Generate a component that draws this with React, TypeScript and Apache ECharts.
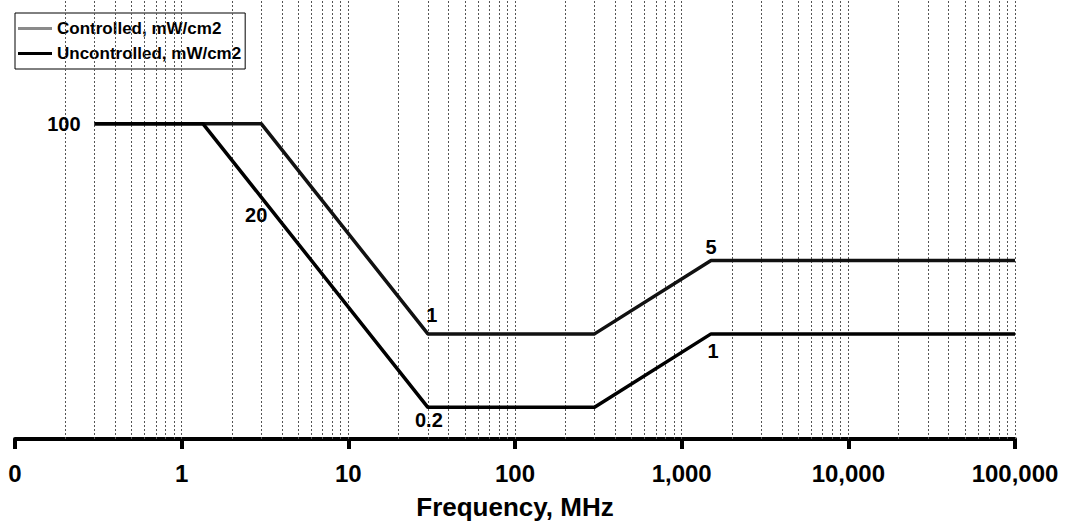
import React, { useEffect, useRef } from "react";
import * as echarts from "echarts";

// ---- data ----
const controlledFreq = [0.3, 3, 30, 300, 1500, 100000];
const controlledDensity = [100, 100, 1, 1, 5, 5];
const controlledLabels = ["100", "", "1", "", "5", ""];

const uncontrolledFreq = [0.3, 1.34, 3, 30, 300, 1500, 100000];
const uncontrolledDensity = [100, 100, 20, 0.2, 0.2, 1, 1];
const uncontrolledLabels = ["", "", "20", "0.2", "", "1", ""];

const xTickLabels = ["0", "1", "10", "100", "1,000", "10,000", "100,000"];
const decadeStarts = [0.1, 1, 10, 100, 1000, 10000];
const gridMultipliers = [2, 3, 4, 5, 6, 7, 8, 9, 10];

const seriesNames = ["Controlled, mW/cm2", "Uncontrolled, mW/cm2"];
const xAxisTitle = "Frequency, MHz";

const FONT = "'Liberation Sans', Arial, sans-serif";

export default function App() {
  const ref = useRef<HTMLDivElement>(null);

  useEffect(() => {
    if (!ref.current) return;
    const chart = echarts.init(ref.current, undefined, { renderer: "svg" });

    const labelStyle: Record<string, any> = {
      "100": { position: "left", distance: 14 },
      "1c": { position: "top", distance: 9, offset: [4, 0] },
      "5": { position: "top", distance: 3 },
      "20": { position: "bottom", distance: 8, offset: [-5, 0] },
      "0.2": { position: "bottom", distance: 3, offset: [1, 0] },
      "1u": { position: "bottom", distance: 7, offset: [2, 0] },
    };

    const mk = (freq: number[], dens: number[], labels: string[], suffix: string) =>
      freq.map((f, i) => {
        const txt = labels[i];
        const item: any = { value: [f, dens[i]] };
        if (txt) {
          const key = labelStyle[txt + suffix] ? txt + suffix : txt;
          item.label = {
            show: true,
            formatter: txt,
            fontFamily: FONT,
            fontWeight: "bold",
            fontSize: 20,
            color: "#000",
            ...labelStyle[key],
          };
        }
        return item;
      });

    const gridLines: any[] = [];
    decadeStarts.forEach((d) =>
      gridMultipliers.forEach((m) => gridLines.push({ xAxis: d * m }))
    );

    chart.setOption({
      animation: false,
      backgroundColor: "#fff",
      grid: { left: 15, right: 50, top: 0, bottom: 85, containLabel: false },
      legend: {
        data: [
          { name: seriesNames[0], itemStyle: { color: "#8a8a8a" } },
          { name: seriesNames[1], itemStyle: { color: "#000" } },
        ],
        orient: "vertical",
        left: 15,
        top: 13,
        backgroundColor: "#fff",
        borderColor: "#000",
        borderWidth: 1,
        borderRadius: 0,
        padding: [7, 4, 7, 3],
        itemGap: 8,
        itemWidth: 34,
        itemHeight: 3,
        icon: "rect",
        textStyle: { fontFamily: FONT, fontWeight: "bold", fontSize: 17, color: "#000" },
      },
      xAxis: {
        type: "log",
        logBase: 10,
        min: 0.1,
        max: 100000,
        name: xAxisTitle,
        nameLocation: "middle",
        nameGap: 55,
        nameTextStyle: { fontFamily: FONT, fontWeight: "bold", fontSize: 26, color: "#000" },
        axisLine: { show: true, lineStyle: { color: "#000", width: 4 } },
        axisTick: { show: true, length: 10, lineStyle: { color: "#000", width: 4 } },
        axisLabel: {
          margin: 22,
          fontFamily: FONT,
          fontWeight: "bold",
          fontSize: 24,
          color: "#000",
          formatter: (v: number) => xTickLabels[Math.round(Math.log10(v)) + 1] ?? "",
        },
        splitLine: { show: false },
        minorTick: { show: false },
      },
      yAxis: { type: "log", logBase: 10, min: 0.1, max: 1500, show: false },
      series: [
        {
          name: "grid",
          type: "line",
          data: [],
          silent: true,
          z: 1,
          markLine: {
            silent: true,
            symbol: "none",
            label: { show: false },
            lineStyle: { type: [2, 2], color: "#555", width: 1 },
            data: gridLines,
          },
        },
        {
          name: seriesNames[0],
          type: "line",
          z: 5,
          symbol: "circle",
          symbolSize: 0,
          showSymbol: true,
          lineStyle: { color: "#111", width: 3.5 },
          itemStyle: { color: "#111" },
          data: mk(controlledFreq, controlledDensity, controlledLabels, "c"),
        },
        {
          name: seriesNames[1],
          type: "line",
          z: 5,
          symbol: "circle",
          symbolSize: 0,
          showSymbol: true,
          lineStyle: { color: "#000", width: 3.5 },
          itemStyle: { color: "#000" },
          data: mk(uncontrolledFreq, uncontrolledDensity, uncontrolledLabels, "u"),
        },
      ],
    });

    return () => chart.dispose();
  }, []);

  return (
    <div
      ref={ref}
      style={{ position: "fixed", left: 0, top: 0, width: 1065, height: 525, background: "#fff" }}
    />
  );
}
